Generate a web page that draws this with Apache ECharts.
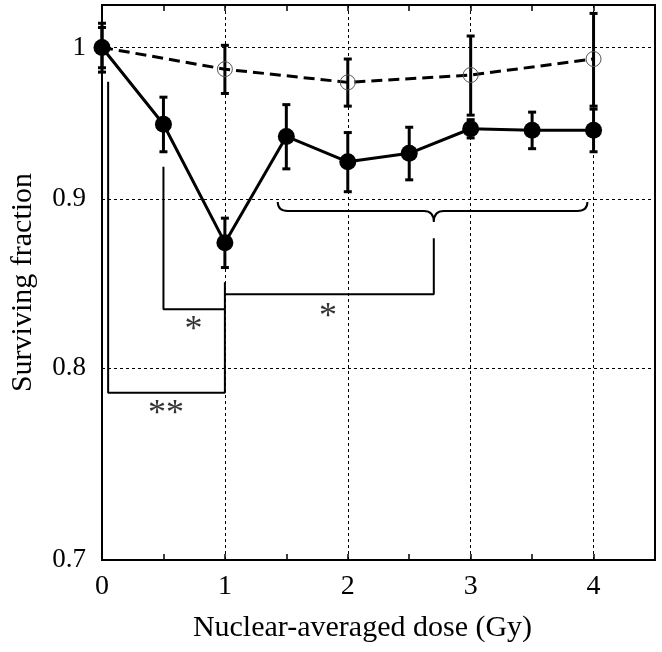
<!DOCTYPE html>
<html>
<head>
<meta charset="utf-8">
<script src="https://cdn.jsdelivr.net/npm/echarts@6/dist/echarts.min.js"></script>
<style>
  html, body { margin: 0; padding: 0; background: #fff; }
  #chart { width: 662px; height: 652px; }
</style>
</head>
<body>
<div id="chart"></div>
<script>
// dose points and surviving fractions
var dose = [0, 0.5, 1, 1.5, 2, 2.5, 3, 3.5, 4];
var sfFilled = [1.0, 0.948, 0.873, 0.940, 0.9235, 0.929, 0.945, 0.944, 0.944];
var errFilled = [0.017, 0.018, 0.015, 0.021, 0.019, 0.017, 0.006, 0.012, 0.014];
var doseOpen = [0, 1, 2, 3, 4];
var sfOpen = [1.0, 0.985, 0.976, 0.981, 0.992];
var errOpen = [0.014, 0.0165, 0.016, 0.027, 0.032];
var yTicks = [0.7, 0.8, 0.9, 1];

// significance brackets (data coords)
var bracketLines = [
    [[0.05, 0.9765], [0.05, 0.7864], [1, 0.7864], [1, 0.8492]],
    [[0.5, 0.9203], [0.5, 0.8334], [1, 0.8334]],
    [[1, 0.8422], [2.7, 0.8422], [2.7, 0.8757]]
];
var braceX = [1.43, 2.7, 3.95];
var braceY = [0.898, 0.8924, 0.8856];
var stars = [[0.745, 0.821, '*'], [1.84, 0.8285, '*'], [0.52, 0.7745, '**']];

var serif = "'Liberation Serif', 'Times New Roman', serif";

function zip(xs, ys, es) {
    var out = [];
    for (var i = 0; i < xs.length; i++) {
        out.push(es ? [xs[i], ys[i], es[i]] : [xs[i], ys[i]]);
    }
    return out;
}

function errRender(params, api) {
    var x = api.value(0), m = api.value(1), e = api.value(2);
    var hi = api.coord([x, m + e]), lo = api.coord([x, m - e]);
    var w = 4;
    var st = { stroke: '#000', lineWidth: 3 };
    return {
        type: 'group',
        children: [
            { type: 'line', shape: { x1: hi[0], y1: hi[1], x2: lo[0], y2: lo[1] }, style: st },
            { type: 'line', shape: { x1: hi[0] - w, y1: hi[1], x2: hi[0] + w, y2: hi[1] }, style: st },
            { type: 'line', shape: { x1: lo[0] - w, y1: lo[1], x2: lo[0] + w, y2: lo[1] }, style: st }
        ]
    };
}

function braceRender(params, api) {
    var l = api.coord([braceX[0], braceY[1]]);
    var t = api.coord([braceX[1], braceY[1]]);
    var r = api.coord([braceX[2], braceY[1]]);
    var top = api.coord([braceX[0], braceY[0]])[1];
    var bot = api.coord([braceX[1], braceY[2]])[1];
    var m = l[1], k = 10;
    var d = 'M' + l[0] + ',' + top +
        ' Q' + l[0] + ',' + m + ' ' + (l[0] + k) + ',' + m +
        ' L' + (t[0] - k) + ',' + m +
        ' Q' + t[0] + ',' + m + ' ' + t[0] + ',' + bot +
        ' Q' + t[0] + ',' + m + ' ' + (t[0] + k) + ',' + m +
        ' L' + (r[0] - k) + ',' + m +
        ' Q' + r[0] + ',' + m + ' ' + r[0] + ',' + top;
    return { type: 'path', shape: { pathData: d }, style: { stroke: '#000', fill: null, lineWidth: 2 } };
}

var myChart = echarts.init(document.getElementById('chart'));

var series = [
    {
        name: 'errOpen', type: 'custom', renderItem: errRender, z: 2, silent: true,
        encode: { x: 0, y: 1 }, data: zip(doseOpen, sfOpen, errOpen)
    },
    {
        name: 'errFilled', type: 'custom', renderItem: errRender, z: 2, silent: true,
        encode: { x: 0, y: 1 }, data: zip(dose, sfFilled, errFilled)
    },
    {
        name: 'open', type: 'line', z: 3, data: zip(doseOpen, sfOpen),
        symbol: 'circle', symbolSize: 15,
        itemStyle: { color: 'rgba(255,255,255,0)', borderColor: '#555', borderWidth: 1 },
        lineStyle: { color: '#000', width: 3, type: [11, 6] },
        markLine: {
            silent: true, symbol: 'none',
            lineStyle: { color: '#000', width: 1, type: [3, 3] },
            label: {
                position: 'start', distance: 16, color: '#000',
                fontFamily: serif, fontSize: 27,
                formatter: function (p) { return String(p.value); }
            },
            data: yTicks.map(function (v) { return { yAxis: v }; })
        }
    },
    {
        name: 'filled', type: 'line', z: 4, data: zip(dose, sfFilled),
        symbol: 'circle', symbolSize: 17,
        itemStyle: { color: '#000' },
        lineStyle: { color: '#000', width: 3 }
    },
    {
        name: 'brace', type: 'custom', renderItem: braceRender, silent: true, z: 2,
        data: [[braceX[1], braceY[1]]]
    },
    {
        name: 'stars', type: 'scatter', silent: true, z: 5,
        symbolSize: 1, itemStyle: { color: 'rgba(0,0,0,0)' },
        data: stars.map(function (s) { return { value: [s[0], s[1]], name: s[2] }; }),
        label: {
            show: true, position: 'inside', color: '#000',
            fontFamily: serif, fontSize: 36,
            formatter: function (p) { return p.name; }
        }
    }
];

bracketLines.forEach(function (pts) {
    series.push({
        type: 'line', silent: true, z: 2, symbol: 'none', data: pts,
        lineStyle: { color: '#000', width: 2 }
    });
});

var option = {
    animation: false,
    backgroundColor: '#fff',
    grid: {
        left: 101, right: 7, top: 5, bottom: 92,
        show: true, borderColor: '#000', borderWidth: 2
    },
    xAxis: [{
        type: 'value', min: 0, max: 4.5, interval: 1,
        name: 'Nuclear-averaged dose (Gy)', nameLocation: 'middle', nameGap: 53,
        nameTextStyle: { fontFamily: serif, fontSize: 30, color: '#000', padding: [0, 32, 0, 0] },
        axisLine: { lineStyle: { color: '#000', width: 2 } },
        axisTick: { inside: true, length: 6, lineStyle: { color: '#000', width: 1.5 } },
        minorTick: { show: true, splitNumber: 2, length: 6, lineStyle: { color: '#000', width: 1.5 } },
        axisLabel: {
            margin: 13, fontFamily: serif, fontSize: 28, color: '#000', showMaxLabel: false,
            formatter: function (v) { return v % 1 === 0 ? String(v) : ''; }
        },
        splitLine: { show: true, lineStyle: { color: '#000', width: 1, type: [3, 3] } }
    }, {
        type: 'value', min: 0, max: 4.5, interval: 1, position: 'top',
        axisLine: { show: false },
        axisTick: { inside: true, length: 6, lineStyle: { color: '#000', width: 1.5 } },
        minorTick: { show: true, splitNumber: 2, length: 6, lineStyle: { color: '#000', width: 1.5 } },
        axisLabel: { show: false },
        splitLine: { show: false }
    }],
    yAxis: {
        type: 'log', logBase: 10, min: 0.7, max: 1.03,
        name: 'Surviving fraction', nameLocation: 'middle', nameGap: 64,
        nameTextStyle: { fontFamily: serif, fontSize: 30, color: '#000' },
        axisLine: { show: true, lineStyle: { color: '#000', width: 2 } },
        axisTick: { show: false },
        axisLabel: { show: false },
        splitLine: { show: false }
    },
    series: series
};

myChart.setOption(option);
</script>
</body>
</html>
